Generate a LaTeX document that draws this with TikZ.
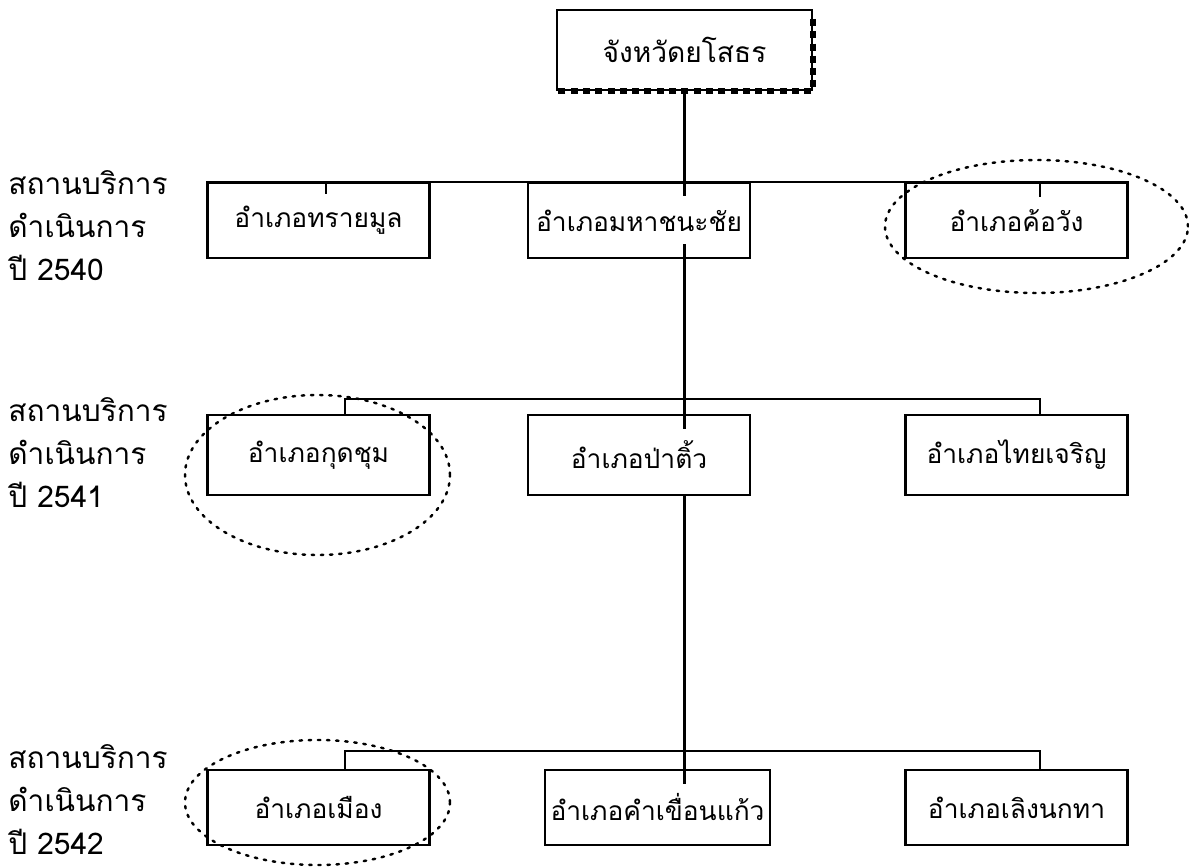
\documentclass[tikz,border=0pt]{standalone}
\usepackage{fontspec}
\newfontfamily\thaifont[Script=Thai]{Loma}
\usetikzlibrary{positioning}

\tikzset{
  amphoe/.style={draw, line width=1.2pt, minimum width=4.44cm, minimum height=1.5cm, inner sep=2pt,
                 font=\thaifont\fontsize{15}{17}\selectfont},
  yearlabel/.style={anchor=west, inner sep=0pt, align=left,
                 font=\thaifont\fontsize{17}{24.5}\selectfont},
  link/.style={line width=1.2pt},
  dotring/.style={line width=1.4pt, dash pattern=on 1.4pt off 3.8pt, line cap=round}
}

\begin{document}
\begin{tikzpicture}[node distance=6.41cm,on grid]
   \useasboundingbox (0,0) rectangle (23.78,-17.36);
   \coordinate (dropL) at (6.9,0);
   \coordinate (dropR) at (20.8,0);
   % province
   \node[amphoe, minimum width=5.1cm, minimum height=1.6cm, font=\thaifont\fontsize{16}{18}\selectfont]
     (yaso) at (13.69,-1.0) {จังหวัดยโสธร};
   \draw[line width=3pt, dash pattern=on 4pt off 3pt]
     ([yshift=-0.2cm]yaso.north east) -- (yaso.south east) -- (yaso.south west);
   % 2540
   \node[amphoe] (maha) at (12.78,-4.41) {อำเภอมหาชนะชัย};
   \node[amphoe] (sai)  [left=of maha]  {อำเภอทรายมูล};
   \node[amphoe] (kho)  [right=7.55cm of maha] {อำเภอค้อวัง};
   % 2541
   \node[amphoe, minimum height=1.6cm] (patio) [below=4.69cm of maha] {อำเภอป่าติ้ว};
   \node[amphoe, minimum height=1.6cm] (kut)   [left=of patio]  {อำเภอกุดชุม};
   \node[amphoe, minimum height=1.6cm] (thai)  [right=7.55cm of patio] {อำเภอไทยเจริญ};
   % 2542
   \node[amphoe, minimum width=4.5cm] (kham) at (13.15,-16.15) {อำเภอคำเขื่อนแก้ว};
   \node[amphoe] (mueang) [left=6.78cm of kham]  {อำเภอเมือง};
   \node[amphoe] (loeng)  [right=7.18cm of kham] {อำเภอเลิงนกทา};

   \node[yearlabel] (y40) at (0.16,-4.52)  {สถานบริการ\\ดำเนินการ\\ปี 2540};
   \node[yearlabel] (y41) at (0.16,-9.06)  {สถานบริการ\\ดำเนินการ\\ปี 2541};
   \node[yearlabel] (y42) at (0.16,-16.0)  {สถานบริการ\\ดำเนินการ\\ปี 2542};

   \draw[link] (yaso.south) -- (yaso.south |- maha.north) -- ++(0,-0.28);
   \draw[link] (sai.north west) -- (kho.north east);
   \draw[link] ([xshift=0.15cm]sai.north) -- ++(0,-0.24);
   \draw[link] (kho.north -| dropR) -- ++(0,-0.3);

   \draw[link] (yaso.south |- maha.south) ++(0,0.3) -- (yaso.south |- patio.north) -- ++(0,-0.3);
   \draw[link] (kut.north -| dropL) -- ++(0,0.3) -| (thai.north -| dropR);

   \draw[link] (yaso.south |- patio.south) -- (yaso.south |- kham.north) -- ++(0,-0.3);
   \draw[link] (mueang.north -| dropL) -- ++(0,0.36) -| (loeng.north -| dropR);

   \draw[dotring] ([xshift=0.4cm,yshift=-0.12cm]kho.center) ellipse [x radius=3.03cm, y radius=1.33cm];
   \draw[dotring] ([xshift=-0.02cm,yshift=-0.4cm]kut.center) ellipse [x radius=2.65cm, y radius=1.6cm];
   \draw[dotring] ([xshift=-0.02cm,yshift=0.1cm]mueang.center) ellipse [x radius=2.65cm, y radius=1.25cm];
\end{tikzpicture}
\end{document}
